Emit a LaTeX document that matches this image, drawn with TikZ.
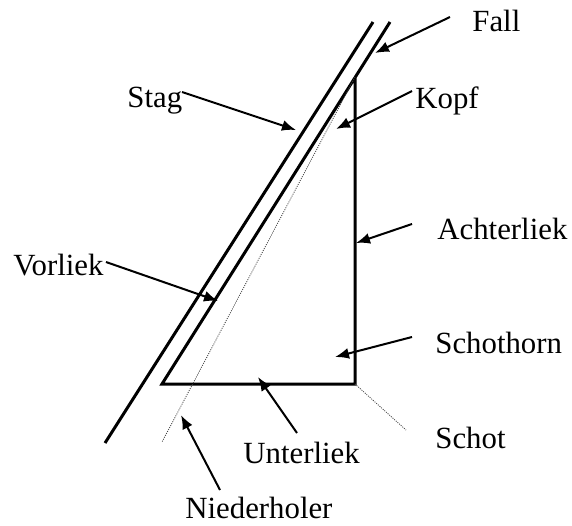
\documentclass[tikz,border=0pt]{standalone}
\usepackage{fontspec}
\setmainfont{Liberation Serif}
\usepackage{tikz}
\usetikzlibrary{arrows.meta}

\begin{document}
\begin{tikzpicture}[x=0.5pt, y=-0.5pt,
        spar/.style={line width=1.5pt, line join=miter},
        pointer/.style={line width=1pt, -{Latex[length=7pt, width=5.5pt]}},
        trim/.style={line width=0.4pt, dash pattern=on 0.5pt off 0.6pt, black!75},
        txt/.style={anchor=base west, inner sep=0pt, font=\fontsize{15.4}{18}\selectfont}]
        \useasboundingbox (0,0) rectangle (572,525);

        % Corners of the sail and ends of the rig
        \coordinate (stagTop) at (373,22);
        \coordinate (stagEnd) at (105,443);
        \coordinate (fallTop) at (390,22);
        \coordinate (tack) at (162,384);
        \coordinate (clew) at (355,384);
        \coordinate (head) at (355,77);
        \coordinate (vangEnd) at (162,442);
        \coordinate (schotEnd) at (406,430);

        % Draw stay, halyard and sail
        \draw[spar] (stagTop) -- (stagEnd);
        \draw[spar] (fallTop) -- (tack) -- (clew) -- (head);

        % Dotted lines for kicker and sheet
        \draw[trim] (head) -- (vangEnd);
        \draw[trim] (clew) -- (schotEnd);

        % Labels
        \node[txt] (fall) at (472,31) {Fall};
        \node[txt] (stag) at (127,107) {Stag};
        \node[txt] (kopf) at (415,108) {Kopf};
        \node[txt] (achterliek) at (437,239) {Achterliek};
        \node[txt] (vorliek) at (13,275) {Vorliek};
        \node[txt] (schothorn) at (435,353) {Schothorn};
        \node[txt] (schot) at (435,448) {Schot};
        \node[txt] (unterliek) at (243,463) {Unterliek};
        \node[txt] (niederholer) at (185,518) {Niederholer};

        % Arrow tails and tips
        \coordinate (fallFrom) at (450,17);    \coordinate (fallTo) at (375,53);
        \coordinate (stagFrom) at (182,92);    \coordinate (stagTo) at (296,130);
        \coordinate (kopfFrom) at (412,91);    \coordinate (kopfTo) at (336,129);
        \coordinate (achterFrom) at (412,224); \coordinate (achterTo) at (356,243);
        \coordinate (vorFrom) at (106,262);    \coordinate (vorTo) at (218,301);
        \coordinate (hornFrom) at (412,337);   \coordinate (hornTo) at (335,357);
        \coordinate (unterFrom) at (297,433);  \coordinate (unterTo) at (258,377);
        \coordinate (niederFrom) at (220,490); \coordinate (niederTo) at (181,415);

        % Draw pointers
        \draw[pointer] (fallFrom) -- (fallTo);
        \draw[pointer] (stagFrom) -- (stagTo);
        \draw[pointer] (kopfFrom) -- (kopfTo);
        \draw[pointer] (achterFrom) -- (achterTo);
        \draw[pointer] (vorFrom) -- (vorTo);
        \draw[pointer] (hornFrom) -- (hornTo);
        \draw[pointer] (unterFrom) -- (unterTo);
        \draw[pointer] (niederFrom) -- (niederTo);

    \end{tikzpicture}
\end{document}
